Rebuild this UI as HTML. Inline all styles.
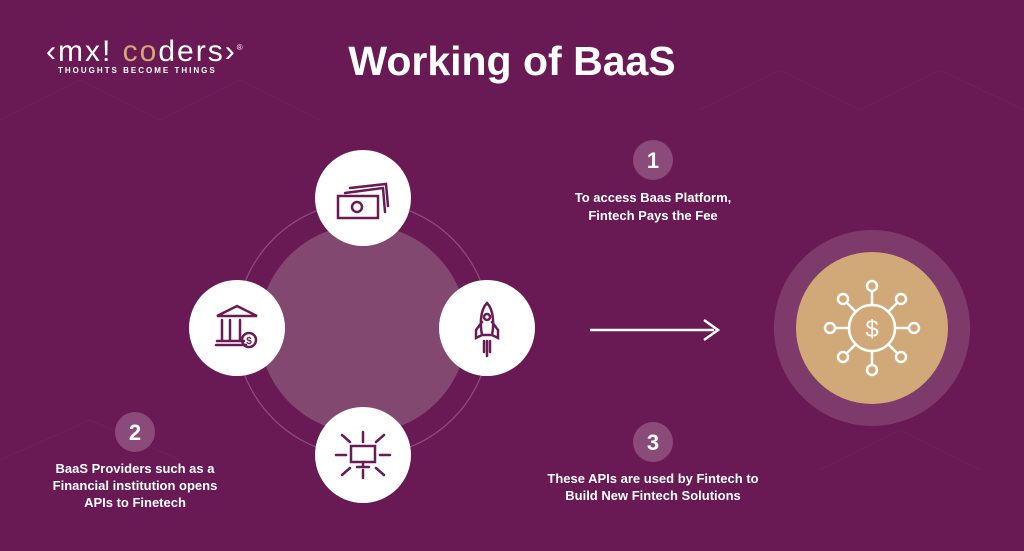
<!DOCTYPE html>
<html><head><meta charset="utf-8"><style>
html,body{margin:0;padding:0}
body{width:1024px;height:551px;background:#691953;position:relative;overflow:hidden;font-family:"Liberation Sans",sans-serif;color:#fff}
.t{position:absolute;text-align:center;font-weight:bold}
</style></head><body>
<svg width="1024" height="551" style="position:absolute;left:0;top:0">
<g stroke="#6f2159" stroke-width="1" fill="none">
<path d="M0 120 L80 80 L160 120 L240 80 L320 120 M700 110 L780 70 L860 110 L940 70 L1024 110 M0 460 L90 420 L180 460 M820 470 L900 430 L980 470"/>
</g>
<circle cx="363" cy="329" r="127" fill="none" stroke="#8c4f7d" stroke-width="1.2"/>
<circle cx="363" cy="329" r="104" fill="#824870"/>
<g fill="#fff">
<circle cx="363" cy="198" r="48"/><circle cx="237" cy="328" r="48"/>
<circle cx="487" cy="328" r="48"/><circle cx="363" cy="455" r="48"/>
</g>
<g stroke="#6a1a55" stroke-width="2.5" fill="none" stroke-linecap="round">
<rect x="338" y="196" width="40" height="22"/><circle cx="357" cy="207" r="5"/>
<path d="M345 193 L383 188 L385 212 M350 188 L386 184 L388 206"/>
<path d="M217 316 L237 306 L257 316 Z M218 316 L256 316 M222 320 L222 340 M230 320 L230 340 M240 320 L240 340 M216 345 L246 345 M217 341 L244 341"/>
<circle cx="249" cy="340" r="7"/>
<path d="M487 303 C480 310 480 325 482 335 L492 335 C494 325 494 310 487 303 Z M482 322 L476 330 L476 338 L482 335 M492 322 L498 330 L498 338 L492 335 M484 341 L484 352 M490 341 L490 352 M487 341 L487 356"/>
<circle cx="487" cy="317" r="3"/>
<rect x="351" y="446" width="24" height="16"/><path d="M357 467 L369 467 M363 462 L363 467 M346 455 L336 455 M380 455 L390 455 M363 442 L363 432 M363 470 L363 478 M350 442 L342 435 M376 442 L384 435 M350 468 L342 475 M376 468 L384 475"/>
</g>
<text x="249" y="344" fill="#6a1a55" font-size="10" font-weight="bold" text-anchor="middle">$</text>
<circle cx="872" cy="328" r="98" fill="#7d3a6a"/>
<circle cx="872" cy="328" r="76" fill="#d1a877"/>
<g stroke="#fff" stroke-width="2.5" fill="none">
<circle cx="872" cy="328" r="23"/>
<path d="M872 305 L872 290 M872 351 L872 366 M849 328 L834 328 M895 328 L910 328 M856 312 L846 302 M888 312 L898 302 M856 344 L846 354 M888 344 L898 354"/>
<circle cx="872" cy="286" r="5"/><circle cx="872" cy="370" r="5"/><circle cx="830" cy="328" r="5"/><circle cx="914" cy="328" r="5"/>
<circle cx="843" cy="299" r="5"/><circle cx="901" cy="299" r="5"/><circle cx="843" cy="357" r="5"/><circle cx="901" cy="357" r="5"/>
</g>
<text x="872" y="337" fill="#fff" font-size="24" text-anchor="middle" font-family="Liberation Sans">$</text>
<line x1="590" y1="330" x2="714" y2="330" stroke="#fff" stroke-width="2.5"/>
<path d="M704 320 L718 330 L704 340" stroke="#fff" stroke-width="2.5" fill="none"/>
<g fill="#8a4a7a"><circle cx="653" cy="160" r="20"/><circle cx="135" cy="432" r="20"/><circle cx="653" cy="442" r="20"/></g>
</svg>
<div class="t" style="left:0;width:1024px;top:38px;font-size:41px">Working of BaaS</div>
<div class="t" style="left:46px;top:35px;font-size:30px;font-weight:normal;letter-spacing:2px;color:#fff">‹mx! <span style="color:#d1a877">co</span>ders›<sup style="font-size:8px">®</sup></div>
<div class="t" style="left:58px;top:66px;font-size:8px;letter-spacing:2px">THOUGHTS BECOME THINGS</div>
<div class="t" style="left:633px;width:40px;top:148px;font-size:22px">1</div>
<div class="t" style="left:115px;width:40px;top:420px;font-size:22px">2</div>
<div class="t" style="left:633px;width:40px;top:430px;font-size:22px">3</div>
<div class="t" style="left:553px;width:200px;top:189px;font-size:13px;line-height:18px">To access Baas Platform,<br>Fintech Pays the Fee</div>
<div class="t" style="left:35px;width:200px;top:460px;font-size:13px;line-height:17px">BaaS Providers such as a<br>Financial institution opens<br>APIs to Finetech</div>
<div class="t" style="left:533px;width:240px;top:470px;font-size:13px;line-height:17px">These APIs are used by Fintech to<br>Build New Fintech Solutions</div>
</body></html>
